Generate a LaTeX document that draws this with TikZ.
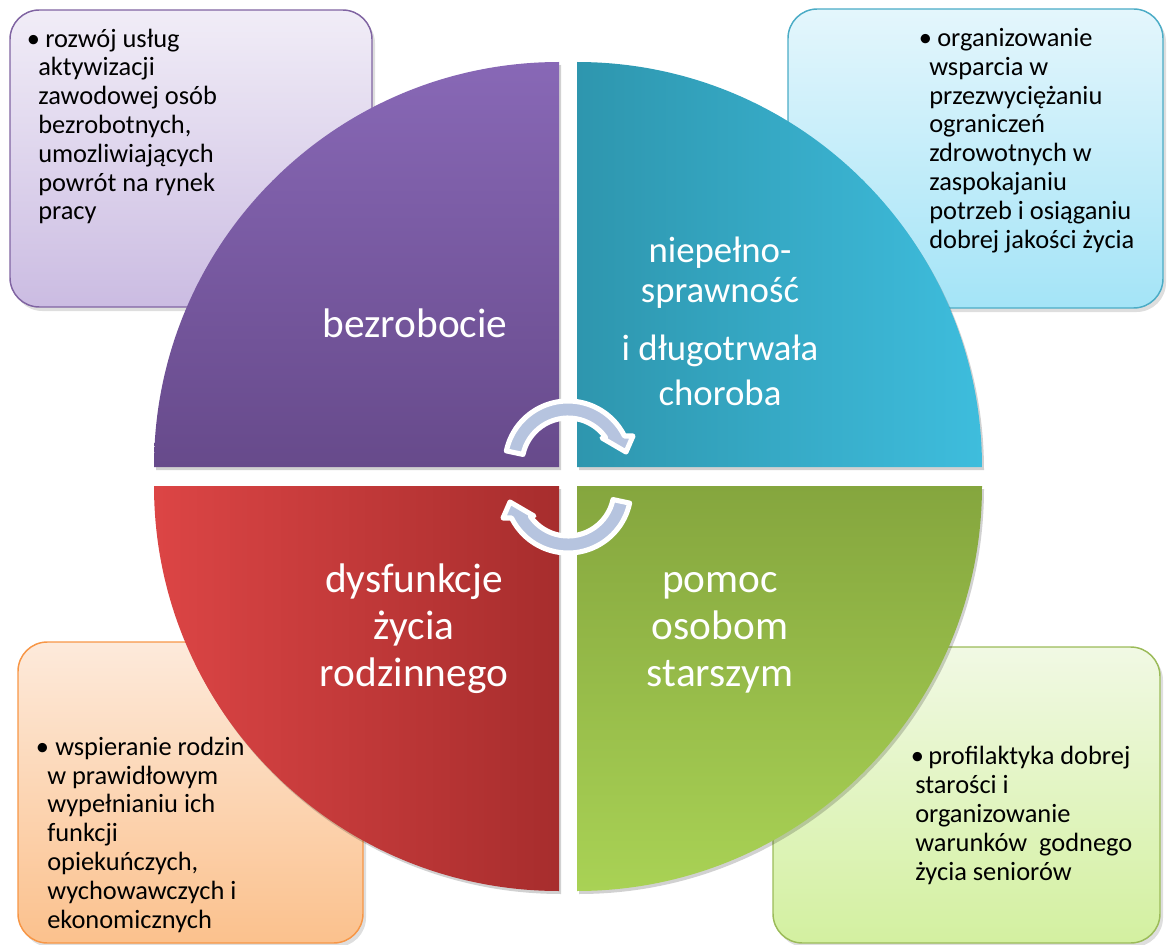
\documentclass[tikz,border=0pt]{standalone}
\usepackage{fontspec}
\setmainfont{Carlito}

\definecolor{unempTop}{HTML}{8868B6}
\definecolor{unempBot}{HTML}{674A8B}
\definecolor{disabLeft}{HTML}{2E96AE}
\definecolor{disabRight}{HTML}{3EBDDD}
\definecolor{familyLeft}{HTML}{DC4545}
\definecolor{familyRight}{HTML}{A72D2D}
\definecolor{seniorTop}{HTML}{85A63E}
\definecolor{seniorBot}{HTML}{A9D255}
\definecolor{arrowFill}{HTML}{B6C4DF}
\definecolor{unempBoxTop}{HTML}{F1EDF7}
\definecolor{unempBoxBot}{HTML}{CBBCE2}
\definecolor{unempBoxLine}{HTML}{8064A2}
\definecolor{disabBoxTop}{HTML}{E4F6FC}
\definecolor{disabBoxBot}{HTML}{A4E4F7}
\definecolor{disabBoxLine}{HTML}{4BACC6}
\definecolor{familyBoxTop}{HTML}{FDEADB}
\definecolor{familyBoxBot}{HTML}{FBC18D}
\definecolor{familyBoxLine}{HTML}{F79646}
\definecolor{seniorBoxTop}{HTML}{F1F9E4}
\definecolor{seniorBoxBot}{HTML}{D3F0A0}
\definecolor{seniorBoxLine}{HTML}{9BBB59}

\newcommand{\firstline}[2]{\makebox[0pt][l]{\hspace*{#1}\textbullet}\hspace*{#2}}

\tikzset{
  infobox/.style={rounded corners=22pt, line width=1.1pt},
  boxshadow/.style={fill=black, opacity=.13, rounded corners=22pt},
  boxtext/.style={anchor=base west, align=left, font=\fontsize{19.8}{21.6}\selectfont},
  quadtext/.style={anchor=base, align=center, text=white, font=\fontsize{31}{35.25}\selectfont},
  cyclearrow/.style={fill=arrowFill, draw=white, line width=3.8pt, line join=round}
}

\begin{document}
\begin{tikzpicture}[x=0.75pt,y=-0.75pt]
	\tikzstyle{every node}+=[inner sep=0pt]
	\useasboundingbox (0,0) rectangle (1168,945);
	% boxes behind the wheel
	\fill[boxshadow] (13,14) rectangle (375,311);
	\draw[infobox, draw=unempBoxLine, top color=unempBoxTop, bottom color=unempBoxBot] (10,10) rectangle (372,307);
	\fill[boxshadow] (791,13) rectangle (1166,312);
	\draw[infobox, draw=disabBoxLine, top color=disabBoxTop, bottom color=disabBoxBot] (788,9) rectangle (1163,308);
	\fill[boxshadow] (21,646) rectangle (366,947);
	\draw[infobox, draw=familyBoxLine, top color=familyBoxTop, bottom color=familyBoxBot] (18,642) rectangle (363,943);
	\fill[boxshadow] (776,651) rectangle (1163,947);
	\draw[infobox, draw=seniorBoxLine, top color=seniorBoxTop, bottom color=seniorBoxBot] (773,647) rectangle (1160,943);
	% texts: base = last line
	\node[boxtext] (txtUnemp) at (38,220) {\firstline{-8.5pt}{5.25pt}rozwój usług\\aktywizacji\\zawodowej osób\\bezrobotnych,\\umozliwiających\\powrót na rynek\\pracy};
	\node[boxtext] (txtDisab) at (929,248) {\firstline{-7.75pt}{6pt}organizowanie\\wsparcia w\\przezwyciężaniu\\ograniczeń\\zdrowotnych w\\zaspokajaniu\\potrzeb i osiąganiu\\dobrej jakości życia};
	\node[boxtext] (txtFamily) at (47,928) {\firstline{-8.5pt}{6pt}wspieranie rodzin\\w prawidłowym\\wypełnianiu ich\\funkcji\\opiekuńczych,\\wychowawczych i\\ekonomicznych};
	\node[boxtext] (txtSenior) at (915,880) {\firstline{-3.25pt}{9.75pt}profilaktyka dobrej\\starości i\\organizowanie\\warunków~ godnego\\życia seniorów};
	% wheel
	\fill[black,opacity=.18] (561,470) -- (156,470) arc[start angle=180,end angle=270,radius=405] -- cycle;
	\shade[top color=unempTop, bottom color=unempBot] (559,467) -- (154,467) arc[start angle=180,end angle=270,radius=405] -- cycle;
	\fill[black,opacity=.18] (579,470) -- (579,65) arc[start angle=270,end angle=360,radius=405] -- cycle;
	\shade[left color=disabLeft, right color=disabRight] (577,467) -- (577,62) arc[start angle=270,end angle=360,radius=405] -- cycle;
	\fill[black,opacity=.18] (561,489) -- (156,489) arc[start angle=180,end angle=90,radius=405] -- cycle;
	\shade[left color=familyLeft, right color=familyRight] (559,486) -- (154,486) arc[start angle=180,end angle=90,radius=405] -- cycle;
	\fill[black,opacity=.18] (579,489) -- (984,489) arc[start angle=0,end angle=90,radius=405] -- cycle;
	\shade[top color=seniorTop, bottom color=seniorBot] (577,486) -- (982,486) arc[start angle=0,end angle=90,radius=405] -- cycle;
	\node[quadtext] (lblUnemp) at (415,337) {bezrobocie};
	\node[quadtext, font=\fontsize{27.6}{30}\selectfont] (lblDisab) at (720,302) {niepełno-\\sprawność};
	\node[quadtext, font=\fontsize{27.6}{33.75}\selectfont] (lblIllness) at (720,405) {i długotrwała\\choroba};
	\node[quadtext] (lblFamily) at (414,686) {dysfunkcje\\życia\\rodzinnego};
	\node[quadtext] (lblSenior) at (720,686) {pomoc\\osobom\\starszym};
	% cycle arrows
	\filldraw[cyclearrow] ([shift={(568,464)}]192:63) arc[start angle=192,end angle=333.6,radius=63] -- (633,436) -- (626,452) -- (602,438) -- ([shift={(568,464)}]325:46) arc[start angle=325,end angle=192,radius=46] -- cycle;
	\begin{scope}[rotate around={180:(568,477)}]
		\filldraw[cyclearrow] ([shift={(568,464)}]192:63) arc[start angle=192,end angle=333.6,radius=63] -- (633,436) -- (626,452) -- (602,438) -- ([shift={(568,464)}]325:46) arc[start angle=325,end angle=192,radius=46] -- cycle;
	\end{scope}
\end{tikzpicture}
\end{document}
